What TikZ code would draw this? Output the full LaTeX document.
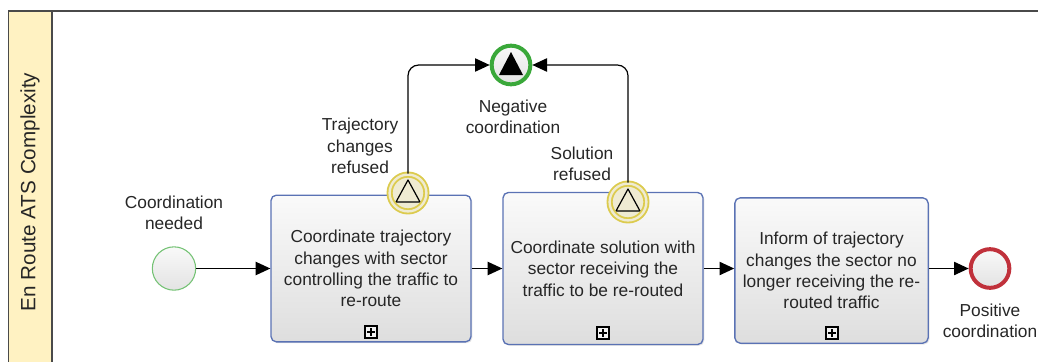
\documentclass[tikz,border=0pt]{standalone}
\usepackage{fontspec}
\setmainfont{Liberation Sans}
\usetikzlibrary{arrows.meta,shadows}

\definecolor{lanefill}{HTML}{FFF2C2}
\definecolor{poolline}{HTML}{4A4A4A}
\definecolor{taskline}{HTML}{5A72B4}
\definecolor{startline}{HTML}{74C274}
\definecolor{bevline}{HTML}{DCCB4E}
\definecolor{bevfill}{HTML}{EFEBD2}
\definecolor{negline}{HTML}{3AA83A}
\definecolor{posline}{HTML}{C0313B}

\tikzset{
  txt/.style={font=\fontsize{13pt}{16pt}\selectfont, align=center, text=black!85, inner sep=0pt},
  task/.style={txt, draw=taskline, line width=1pt, rounded corners=4pt,
    top color=gray!4, bottom color=gray!26,
    drop shadow={shadow xshift=1pt, shadow yshift=-1pt, opacity=0.2}},
  subproc/.style={draw=black, line width=0.9pt, minimum size=9pt, inner sep=0pt, fill=gray!10,
    path picture={\draw[line width=1pt]
      ([xshift=-2.7pt]path picture bounding box.center) -- ++(5.4pt,0)
      ([yshift=-2.7pt]path picture bounding box.center) -- ++(0,5.4pt);}},
  startev/.style={circle, draw=startline, line width=0.8pt, minimum size=32.5pt, inner sep=0pt,
    top color=gray!5, bottom color=gray!22},
  endev/.style={circle, line width=3pt, minimum size=29pt, inner sep=0pt,
    top color=gray!5, bottom color=gray!22},
  bev/.style={circle, draw=bevline, line width=1.4pt, double=bevfill, double distance=1.8pt,
    minimum size=27.6pt, inner sep=0pt, fill=bevfill,
    path picture={\draw[black, line width=0.9pt, line join=round]
      ([yshift=9.75pt]path picture bounding box.center) -- ++(9pt,-16.5pt) -- ++(-18pt,0) -- cycle;}},
  negev/.style={endev, draw=negline,
    path picture={\fill[black]
      ([yshift=9.75pt]path picture bounding box.center) -- ++(9pt,-17.25pt) -- ++(-18pt,0) -- cycle;}},
  posev/.style={endev, draw=posline},
  flow/.style={draw=black, line width=0.9pt, -{Triangle[length=11pt,width=10pt]}}
}

\begin{document}
\begin{tikzpicture}[x=0.75pt, y=-0.75pt]
  \useasboundingbox (0,0) rectangle (1038,361);
  \clip (0,0) rectangle (1038,361);

  % Pool and lane
  \fill[lanefill] (8.5,11) rectangle (52,375);
  \draw[poolline, line width=0.9pt] (8.5,11) rectangle (1060,375);
  \draw[poolline, line width=0.9pt] (52,11) -- (52,375);
  \node[rotate=90, font=\fontsize{15.5pt}{18pt}\selectfont, text=black!85] (lanename) at (30,192) {En Route ATS Complexity};

  % Events and tasks
  \node[startev] (start) at (174,268.5) {};
  \node[task, minimum width=150pt, minimum height=110pt] (task1) at (371,268.5)
    {Coordinate trajectory\\changes with sector\\controlling the traffic to\\re-route};
  \node[task, minimum width=150pt, minimum height=114pt] (task2) at (603,268.5)
    {Coordinate solution with\\sector receiving the\\traffic to be re-routed};
  \node[task, minimum width=145pt, minimum height=109pt] (task3) at (831.5,270.5)
    {Inform of trajectory\\changes the sector no\\longer receiving the re-\\routed traffic};
  \node[posev] (pos) at (990,268.5) {};
  \node[negev] (neg) at (511,65) {};

  % Collapsed sub-process markers
  \node[subproc] (mark1) at (371,332) {};
  \node[subproc] (mark2) at (603,333) {};
  \node[subproc] (mark3) at (832,333) {};

  % Boundary events
  \node[bev] (bev1) at (408,193) {};
  \node[bev] (bev2) at (628,202) {};

  % Labels
  \node[txt] (startlbl) at (174,213) {Coordination\\needed};
  \node[txt] (bev1lbl) at (360,146) {Trajectory\\changes\\refused};
  \node[txt] (neglbl) at (513,117) {Negative\\coordination};
  \node[txt] (bev2lbl) at (582,164) {Solution\\refused};
  \node[txt] (poslbl) at (990,321) {Positive\\coordination};

  % Sequence flows
  \draw[flow] (start) -- (task1);
  \draw[flow] (task1) -- (task2);
  \draw[flow] (task2.east) -- (task2.east -| task3.west);
  \draw[flow] (pos -| task3.east) -- (pos);
  \draw[flow, rounded corners=8pt] (bev1.north) |- (neg.west);
  \draw[flow, rounded corners=8pt] (bev2.north) |- (neg.east);
\end{tikzpicture}
\end{document}
